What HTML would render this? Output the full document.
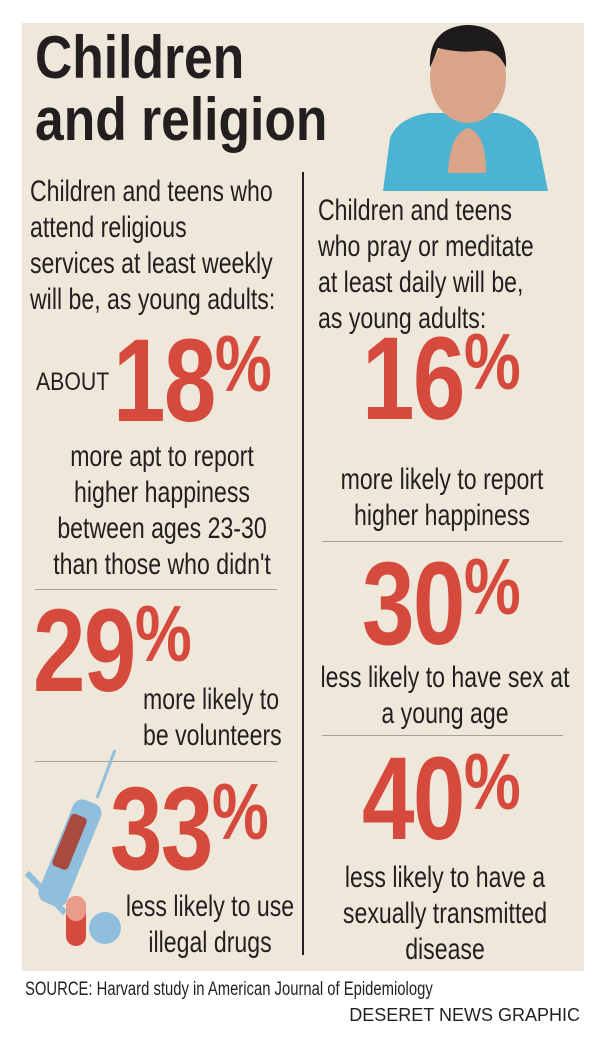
<!DOCTYPE html>
<html><head><meta charset="utf-8"><style>
body{margin:0;width:600px;height:1050px;background:#fff;position:relative;overflow:hidden;font-family:"Liberation Sans",sans-serif;color:#231f20}
.panel{position:absolute;left:22px;top:23px;width:562px;height:948px;background:#efe8da}
.a{position:absolute;white-space:nowrap}
.t{font-size:30px;line-height:36px;transform:scaleX(0.77);transform-origin:0 0}
.c{text-align:center;transform-origin:50% 0;width:400px}
.num{font-weight:bold;color:#d64a3e;font-size:118px;line-height:118px;letter-spacing:-2px;transform:scaleX(0.8);transform-origin:0 0}
.num span{font-size:80px;position:relative;top:-30px;letter-spacing:0}
.hr{position:absolute;height:1px;background:#a8a196}
</style></head><body>
<div class="panel"></div>
<svg class="a" style="left:378px;top:23px" width="174" height="168" viewBox="0 0 174 168">
<path d="M5 168 L12 115 Q20 95 50 90 L120 90 Q150 96 160 118 L170 168 Z" fill="#4cb3d3"/>
<ellipse cx="90" cy="55" rx="38" ry="45" fill="#d9a488"/>
<path d="M52 45 Q50 5 88 2 Q130 2 128 45 Q120 25 100 28 Q80 30 60 25 Z" fill="#1d1b1b"/>
<path d="M70 150 Q72 110 90 105 Q108 110 108 150 Z" fill="#d9a488"/>
</svg>
<div class="a" style="left:35px;top:27px;font-weight:bold;font-size:60px;line-height:62px;transform:scaleX(0.86);transform-origin:0 0">Children<br>and religion</div>
<div style="position:absolute;left:302px;top:172px;width:2px;height:783px;background:#231f20"></div>
<div class="a t" style="left:30px;top:174px">Children and teens who<br>attend religious<br>services at least weekly<br>will be, as young adults:</div>
<div class="a t" style="left:318px;top:193px">Children and teens<br>who pray or meditate<br>at least daily will be,<br>as young adults:</div>
<div class="a" style="left:36px;top:368px;font-size:25px;transform:scaleX(0.85);transform-origin:0 0">ABOUT</div>
<div class="a num" style="left:113px;top:322px">18<span>%</span></div>
<div class="a t c" style="left:-38px;top:439px">more apt to report<br>higher happiness<br>between ages 23-30<br>than those who didn't</div>
<div class="hr" style="left:35px;width:242px;top:589px"></div>
<div class="a num" style="left:33px;top:592px">29<span>%</span></div>
<div class="a t" style="left:143px;top:682px">more likely to<br>be volunteers</div>
<div class="hr" style="left:35px;width:242px;top:761px"></div>
<svg class="a" style="left:25px;top:748px" width="100" height="200" viewBox="0 0 100 200">
<line x1="90" y1="2" x2="72" y2="50" stroke="#8fbfdc" stroke-width="3"/>
<rect x="30" y="50" width="30" height="110" rx="10" fill="#8fbfdc" transform="rotate(22 45 105)"/>
<rect x="36" y="66" width="17" height="56" rx="4" fill="#a84a3e" transform="rotate(22 45 94)"/>
<line x1="2" y1="125" x2="40" y2="165" stroke="#8fbfdc" stroke-width="6"/>
<rect x="41" y="148" width="20" height="50" rx="10" fill="#d64a3e"/>
<rect x="41" y="148" width="20" height="25" rx="10" fill="#eb9b8a"/>
<circle cx="80" cy="180" r="16" fill="#8fbfdc"/>
</svg>
<div class="a num" style="left:110px;top:770px">33<span>%</span></div>
<div class="a t c" style="left:10px;top:889px">less likely to use<br>illegal drugs</div>
<div class="a num" style="left:362px;top:320px">16<span>%</span></div>
<div class="a t c" style="left:242px;top:462px">more likely to report<br>higher happiness</div>
<div class="hr" style="left:322px;width:241px;top:541px"></div>
<div class="a num" style="left:362px;top:545px">30<span>%</span></div>
<div class="a t c" style="left:245px;top:660px">less likely to have sex at<br>a young age</div>
<div class="hr" style="left:322px;width:241px;top:735px"></div>
<div class="a num" style="left:362px;top:740px">40<span>%</span></div>
<div class="a t c" style="left:245px;top:860px">less likely to have a<br>sexually transmitted<br>disease</div>
<div class="a" style="left:25px;top:979px;font-size:19px;transform:scaleX(0.78);transform-origin:0 0">SOURCE: Harvard study in American Journal of Epidemiology</div>
<div class="a" style="right:20px;top:1005px;font-size:18px">DESERET NEWS GRAPHIC</div>
</body></html>
